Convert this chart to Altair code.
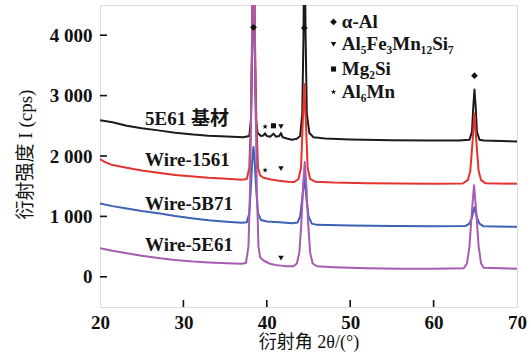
import altair as alt
import pandas as pd

# Diffraction patterns (2θ in degrees, intensity in cps)
angle_base = [20.0, 21.5, 23.2, 25.0, 27.2, 29.0, 31.2, 33.0, 35.2, 37.2, 37.9, 38.1, 38.25, 38.4,
              38.55, 38.7, 38.9, 39.3, 39.6, 39.8, 40.0, 40.4, 40.8, 41.1, 41.5, 41.7, 41.9, 42.4,
              43.0, 43.6, 44.0, 44.25, 44.4, 44.5, 44.65, 44.8, 45.1, 45.6, 47.0, 50.0, 55.0, 60.0,
              63.0, 64.3, 64.6, 64.75, 64.9, 65.05, 65.2, 65.5, 66.0, 70.0]
int_base = [2590, 2560, 2500, 2460, 2420, 2385, 2354, 2335, 2321, 2310, 2330, 2600, 3800, 6000,
            3800, 2600, 2380, 2330, 2340, 2375, 2330, 2320, 2370, 2320, 2330, 2380, 2310, 2290,
            2270, 2285, 2330, 2700, 4000, 6000, 4000, 2700, 2380, 2310, 2290, 2275, 2262, 2258,
            2255, 2270, 2400, 2800, 3100, 2800, 2400, 2270, 2255, 2240]

angle_1561 = [20.0, 20.6, 21.5, 23.2, 25.0, 27.2, 29.0, 31.2, 33.0, 35.2, 37.0, 37.6, 37.9, 38.1,
              38.25, 38.4, 38.55, 38.75, 38.95, 39.2, 39.6, 40.5, 41.5, 42.5, 43.3, 43.8, 44.1,
              44.3, 44.5, 44.7, 44.9, 45.2, 45.8, 48.0, 52.0, 56.0, 60.0, 63.5, 64.1, 64.4, 64.65,
              64.9, 65.15, 65.4, 65.7, 66.2, 70.0]
int_1561 = [1950, 1898, 1850, 1805, 1760, 1717, 1685, 1662, 1640, 1624, 1608, 1620, 1800, 2600,
            4200, 6500, 4200, 2600, 1800, 1680, 1640, 1610, 1590, 1575, 1570, 1620, 1800,
            2500, 3190, 2500, 1800, 1620, 1575, 1560, 1550, 1545, 1542, 1545, 1600, 1750, 2200,
            2700, 2200, 1750, 1600, 1550, 1540]

angle_5b71 = [20.0, 21.5, 23.2, 25.0, 27.2, 29.0, 31.2, 33.0, 35.2, 37.0, 37.6, 37.9, 38.1, 38.25,
              38.4, 38.55, 38.75, 38.95, 39.3, 40.0, 41.5, 43.0, 43.7, 44.0, 44.25, 44.5, 44.75,
              45.0, 45.4, 46.0, 50.0, 55.0, 60.0, 63.8, 64.3, 64.6, 64.9, 65.2, 65.5, 66.0, 70.0]
int_5b71 = [1213, 1170, 1130, 1090, 1048, 1005, 966, 935, 911, 895, 905, 1050, 1500, 1900,
            2150, 1900, 1400, 1050, 940, 915, 905, 885, 900, 1000, 1300, 1650, 1300,
            1000, 880, 860, 850, 842, 838, 840, 880, 980, 1150, 980, 880, 835, 828]

angle_5e61 = [20.0, 21.5, 23.2, 25.0, 27.2, 29.0, 31.2, 33.0, 35.2, 37.0, 37.5, 37.8, 38.0, 38.2,
              38.4, 38.6, 38.8, 39.0, 39.2, 39.6, 40.3, 41.0, 41.7, 42.4, 43.2, 43.6, 43.9, 44.15,
              44.35, 44.55, 44.75, 44.95, 45.2, 45.5, 46.0, 48.0, 52.0, 56.0, 60.0, 63.6, 64.0,
              64.3, 64.6, 64.85, 65.1, 65.4, 65.7, 66.0, 70.0]
int_5e61 = [472, 430, 390, 350, 308, 280, 253, 238, 225, 215, 230, 500, 1500, 3500,
            5500, 3500, 1500, 500, 320, 270, 220, 195, 185, 175, 175, 220, 400, 900,
            1500, 1900, 1500, 900, 400, 220, 175, 160, 140, 132, 132, 140, 220,
            500, 1100, 1514, 1100, 500, 220, 150, 132]

series_colors = ["#1b1b1b", "#e2332f", "#3d62b2", "#a65cb2"]
series_names = ["5E61 基材", "Wire-1561", "Wire-5B71", "Wire-5E61"]
series_label_angle = [25.4, 25.4, 25.4, 25.4]
series_label_int = [2617, 1926, 1202, 527]

# Phase markers placed on the patterns
STAR = ("M0,-1L0.25,-0.33L0.95,-0.31L0.4,0.12L0.59,0.81L0,0.4L-0.59,0.81"
        "L-0.4,0.12L-0.95,-0.31L-0.25,-0.33Z")
marker_angle = [38.4, 44.5, 64.9, 39.8, 40.8, 41.7, 39.8, 41.7, 41.7]
marker_int = [4130, 4120, 3330, 2486, 2500, 2486, 1765, 1790, 310]
marker_shape = ["diamond", "diamond", "diamond", STAR, "square", "triangle-down",
                STAR, "triangle-down", "triangle-down"]
marker_size = [45, 45, 45, 32, 26, 30, 32, 30, 30]

# Phase key
key_angle = [48.0, 48.0, 48.0, 48.0]
key_int = [4220, 3850, 3440, 3060]
key_shape = ["diamond", "triangle-down", "square", STAR]
key_size = [45, 30, 26, 32]
key_text_angle = [49.0, 49.0, 49.0, 49.0]
key_text = ["α-Al", "Al₅Fe₃Mn₁₂Si₇", "Mg₂Si", "Al₆Mn"]

x_ticks = [20, 30, 40, 50, 60, 70]
inner_x_ticks = [30, 40, 50, 60]
y_ticks = [0, 1000, 2000, 3000, 4000]

SERIF = "'Liberation Serif', 'Noto Sans CJK SC'"
X_DOMAIN = [20, 70]
Y_DOMAIN = [-500, 4500]

x_axis = alt.Axis(values=x_ticks, grid=False, domain=False, ticks=False, tickSize=0,
                  labelFont=SERIF, labelFontWeight="bold", labelFontSize=19,
                  labelColor="#111111", labelPadding=6, labelFlush=False,
                  labelOverlap=False, title="衍射角 2θ/(°)", titleFont=SERIF,
                  titleFontSize=18, titleFontWeight="normal", titleColor="#111111",
                  titleBaseline="alphabetic", titleY=40)
y_axis = alt.Axis(values=y_ticks, grid=False, domain=False, ticks=False, tickSize=0,
                  labelFont=SERIF, labelFontWeight="bold", labelFontSize=19,
                  labelColor="#111111", labelPadding=8, labelFlush=False,
                  labelBaseline="middle",
                  labelExpr="datum.value == 0 ? '0' : replace(format(datum.value, ','), ',', ' ')",
                  title="衍射强度 I (cps)", titleFont=SERIF, titleFontSize=19,
                  titleFontWeight="normal", titleColor="#111111", titleAngle=270,
                  titleX=-75, titleY=149, titleAlign="center", titleBaseline="middle")

x_enc = alt.X("angle:Q", scale=alt.Scale(domain=X_DOMAIN, nice=False, zero=False), axis=x_axis)
y_enc = alt.Y("intensity:Q", scale=alt.Scale(domain=Y_DOMAIN, nice=False, zero=False), axis=y_axis)

layers = []

patterns = [(angle_base, int_base), (angle_1561, int_1561),
            (angle_5b71, int_5b71), (angle_5e61, int_5e61)]
for (xs, ys), color in zip(patterns, series_colors):
    df = pd.DataFrame({"angle": xs, "intensity": ys})
    layers.append(
        alt.Chart(df).mark_line(color=color, strokeWidth=2, clip=True, strokeJoin="round")
        .encode(x=x_enc, y=y_enc)
    )

labels_df = pd.DataFrame({"angle": series_label_angle, "intensity": series_label_int,
                          "text": series_names})
layers.append(
    alt.Chart(labels_df).mark_text(align="left", baseline="middle", font=SERIF,
                                   fontSize=19, fontWeight="bold", color="#151515")
    .encode(x=x_enc, y=y_enc, text="text:N")
)

markers_df = pd.DataFrame({"angle": marker_angle, "intensity": marker_int,
                           "shape": marker_shape, "size": marker_size})
key_df = pd.DataFrame({"angle": key_angle, "intensity": key_int,
                       "shape": key_shape, "size": key_size})
for df in (markers_df, key_df):
    layers.append(
        alt.Chart(df).mark_point(filled=True, color="#111111", opacity=1)
        .encode(x=x_enc, y=y_enc,
                shape=alt.Shape("shape:N", scale=None),
                size=alt.Size("size:Q", scale=None))
    )

key_text_df = pd.DataFrame({"angle": key_text_angle, "intensity": key_int, "text": key_text})
layers.append(
    alt.Chart(key_text_df).mark_text(align="left", baseline="middle", font=SERIF,
                                     fontSize=19, fontWeight="bold", color="#151515")
    .encode(x=x_enc, y=y_enc, text="text:N")
)

# Inward tick marks along the bottom and left edges of the frame
xt_df = pd.DataFrame({"angle": inner_x_ticks, "intensity": [Y_DOMAIN[0]] * len(inner_x_ticks)})
layers.append(
    alt.Chart(xt_df).mark_tick(orient="vertical", size=7, thickness=1.6, yOffset=-3.5,
                               color="#111111", opacity=1)
    .encode(x=x_enc, y=y_enc)
)
yt_df = pd.DataFrame({"angle": [X_DOMAIN[0]] * len(y_ticks), "intensity": y_ticks})
layers.append(
    alt.Chart(yt_df).mark_tick(orient="horizontal", size=7, thickness=1.6, xOffset=3.5,
                               color="#111111", opacity=1)
    .encode(x=x_enc, y=y_enc)
)

chart = (
    alt.layer(*layers)
    .properties(width=417, height=302,
                autosize=alt.AutoSizeParams(type="none"),
                padding={"left": 100, "top": 5, "right": 14, "bottom": 55})
    .configure_view(stroke="#111111", strokeWidth=2.4)
    .configure(background="white")
)

chart.save("out.html", embed_options={"renderer": "svg", "actions": False})
